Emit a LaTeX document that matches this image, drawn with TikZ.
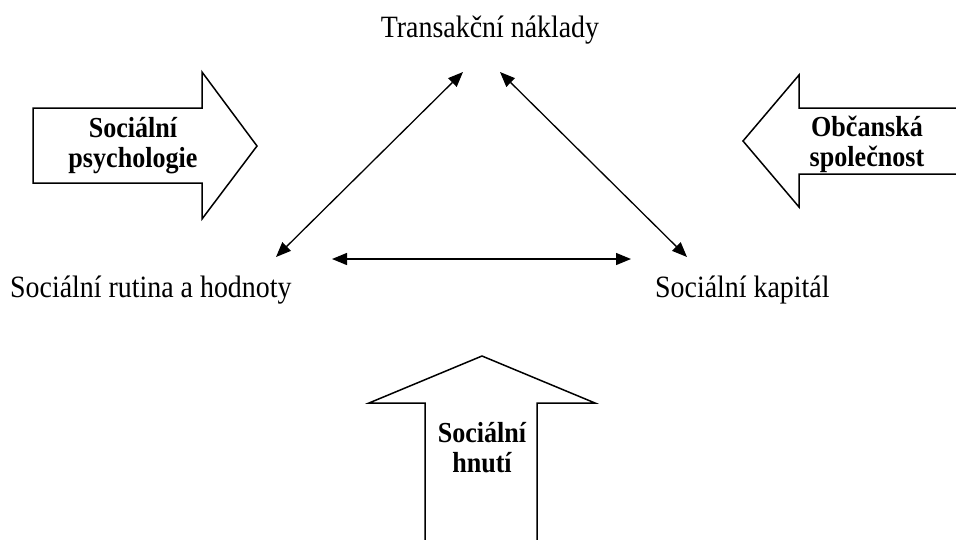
\documentclass[tikz,border=0pt]{standalone}
\usepackage{fontspec}
\setmainfont[FakeStretch=0.9]{Liberation Serif}
\usetikzlibrary{arrows.meta}
\tikzset{
  bigarrow/.style={draw=black, line width=1.5pt, line join=miter, fill=white},
  link/.style={line width=1.3pt, {Triangle[length=15pt,width=12pt]}-{Triangle[length=15pt,width=12pt]}},
  plain/.style={font=\fontsize{31}{34}\selectfont, inner sep=0pt},
  boldlabel/.style={font=\fontsize{29}{30}\selectfont\bfseries, align=center, inner sep=0pt}
}
\begin{document}
\begin{tikzpicture}[x=1pt,y=-1pt]
\useasboundingbox (0,0) rectangle (956,539);
\clip (0,0) rectangle (956,539);
% big arrows
\draw[bigarrow] (33,108) -- (202,108) -- (202,72) -- (257,146) -- (202,219) -- (202,183) -- (33,183) -- cycle;
\draw[bigarrow] (962,108) -- (799,108) -- (799,75) -- (743,141) -- (799,207) -- (799,174) -- (962,174);
\draw[bigarrow] (425,545) -- (425,403) -- (369,403) -- (482,356) -- (595,403) -- (537,403) -- (537,545);
% labels in arrows
\node[boldlabel] (sp) at (133,146) {Sociální\\psychologie};
\node[boldlabel] (os) at (867,144.5) {Občanská\\společnost};
\node[boldlabel] (sh) at (482,447.5) {Sociální\\hnutí};
% concept texts
\node[plain, anchor=base] (tn) at (490,37) {Transakční náklady};
\node[plain, anchor=base west] (sr) at (10,297) {Sociální rutina a hodnoty};
\node[plain, anchor=base west] (sk) at (655,297) {Sociální kapitál};
% arrow endpoints
\coordinate (tnL) at (463,72);
\coordinate (tnR) at (500,72);
\coordinate (srT) at (276,257);
\coordinate (srR) at (332,259);
\coordinate (skT) at (687,257);
\coordinate (skL) at (631,259);
\draw[link] (srT) -- (tnL);
\draw[link] (tnR) -- (skT);
\draw[link] (srR) -- (skL);
\end{tikzpicture}
\end{document}
